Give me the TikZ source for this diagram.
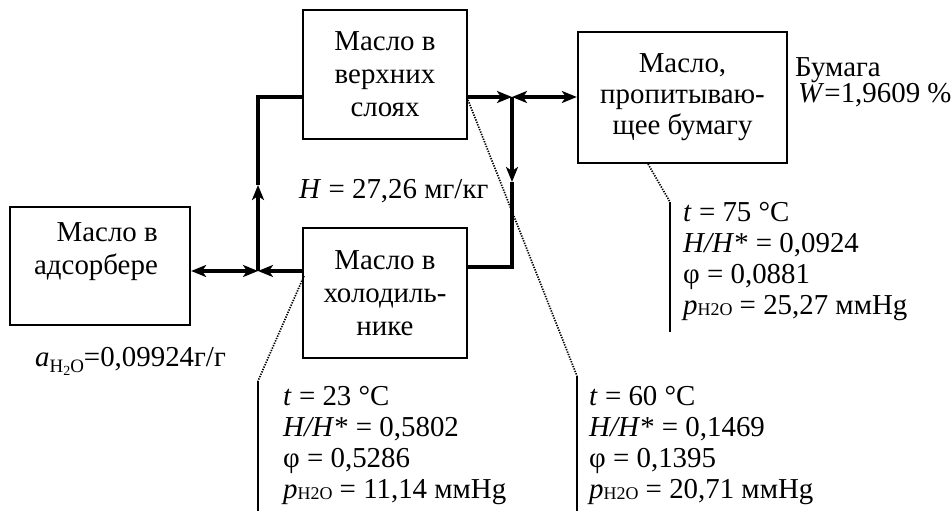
\documentclass[tikz,border=0pt]{standalone}
\usepackage{fontspec}
\setmainfont{Liberation Serif}
\usetikzlibrary{arrows.meta}
\newcommand\pHtwoO{\textit{p}\raisebox{-1bp}{\fontsize{18}{18}\selectfont H2O}}
\begin{document}
\begin{tikzpicture}[x=1bp,y=-1bp,
  box/.style={draw,line width=2.3bp,inner sep=0,align=center,font=\fontsize{29}{33}\selectfont},
  conn/.style={line width=3.2bp},
  arr/.style={-{Stealth[length=15bp,width=12bp,inset=4bp]}},
  arrboth/.style={{Stealth[length=15bp,width=12bp,inset=4bp]}-{Stealth[length=15bp,width=12bp,inset=4bp]}},
  dots/.style={line width=1.7bp,dash pattern=on 1.3bp off 1.3bp},
  bar/.style={line width=2.3bp},
  txt/.style={inner sep=0,anchor=base west,font=\fontsize{29}{31}\selectfont}
]
\useasboundingbox (0,0) rectangle (952,511);
% boxes
\node[box,minimum width=180bp,minimum height=118bp] (ads) at (100,266) {};
\node[inner sep=0,align=right,anchor=east,font=\fontsize{29}{33}\selectfont] (adst) at (158,252) {Масло в\\адсорбере};
\node[box,minimum width=164bp,minimum height=129bp] (up) at (385,74.5) {Масло в\\верхних\\слоях};
\node[box,minimum width=164bp,minimum height=130bp] (low) at (385,293) {Масло в\\холодиль-\\нике};
\node[box,minimum width=209bp,minimum height=131bp,font=\fontsize{29}{31}\selectfont] (pap) at (682.5,97.5) {Масло,\\пропитываю-\\щее бумагу};
% junctions
\coordinate (J1) at (258,271);
\coordinate (J2) at (512,97);
\coordinate (A1) at (258,185);
\coordinate (A2) at (512,182);
\coordinate (K) at (512,267);
% connectors
\draw[conn,arrboth] (ads.east |- J1) -- (J1);
\draw[conn,arr] (low.west |- J1) -- (J1);
\draw[conn,arr] (J1) -- (A1);
\draw[conn] (A1) |- (up.west |- J2);
\draw[conn,arr] (up.east |- J2) -- (J2);
\draw[conn,arrboth] (J2) -- (pap.west |- J2);
\draw[conn,arr] (J2) -- (A2);
\draw[conn] (A2) |- (low.east |- K);
% callout leaders
\coordinate (d1s) at (304,276);
\coordinate (d1e) at (258,381);
\coordinate (b1e) at (258,511);
\coordinate (d2s) at (468,100);
\coordinate (d2e) at (577,376);
\coordinate (b2e) at (577,511);
\coordinate (d3s) at (648,164);
\coordinate (d3e) at (670,202);
\coordinate (b3e) at (670,332);
\draw[dots] (d1s) -- (d1e);
\draw[bar] (d1e) -- (b1e);
\draw[dots] (d2s) -- (d2e);
\draw[bar] (d2e) -- (b2e);
\draw[dots] (d3s) -- (d3e);
\draw[bar] (d3e) -- (b3e);
% labels
\node[txt] (Hlab) at (299,199) {\textit{H} = 27,26 мг/кг};
\node[txt] (alab) at (35,367) {\textit{a}\raisebox{-6bp}{\fontsize{19}{19}\selectfont H\raisebox{-3bp}{\fontsize{14}{14}\selectfont 2}O}=0,09924г/г};
\node[txt] (bum) at (795,77) {Бумага};
\node[txt] (wlab) at (798,103) {\textit{W}=1,9609 \%};
% left data block
\node[txt] (l1) at (283,405) {\textit{t} = 23 °C};
\node[txt] (l2) at (283,436) {\textit{H/H}* = 0,5802};
\node[txt] (l3) at (283,467) {φ = 0,5286};
\node[txt] (l4) at (283,498) {\pHtwoO{} = 11,14 ммHg};
% middle data block
\node[txt] (m1) at (589,405) {\textit{t} = 60 °C};
\node[txt] (m2) at (589,436) {\textit{H/H}* = 0,1469};
\node[txt] (m3) at (589,467) {φ = 0,1395};
\node[txt] (m4) at (589,498) {\pHtwoO{} = 20,71 ммHg};
% right data block
\node[txt] (r1) at (683,222) {\textit{t} = 75 °C};
\node[txt] (r2) at (683,253) {\textit{H/H}* = 0,0924};
\node[txt] (r3) at (683,284) {φ = 0,0881};
\node[txt] (r4) at (683,315) {\pHtwoO{} = 25,27 ммHg};
\end{tikzpicture}
\end{document}
